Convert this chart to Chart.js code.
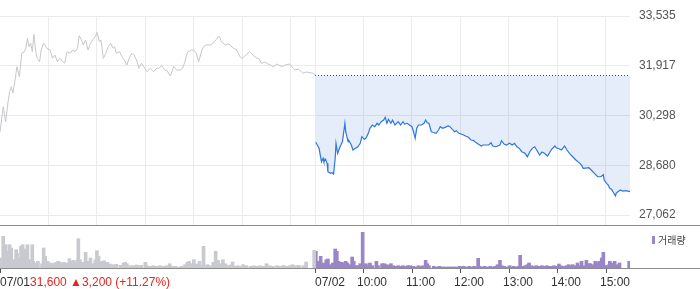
<!DOCTYPE html>
<html lang="ko">
<head>
<meta charset="UTF-8">
<title>주가 차트</title>
<script src="https://cdn.jsdelivr.net/npm/chart.js"></script>
<style>
  body { margin: 0; background: #fff; }
  .wrap { position: relative; width: 700px; height: 289px; overflow: hidden; }
  #priceChart { position: absolute; left: 0; top: 0; }
  #volChart { position: absolute; left: 0; top: 225px; }
  .legend {
    position: absolute; left: 652px; top: 232px;
    font: 10px "Noto Sans CJK KR", sans-serif; color: #444;
    display: flex; align-items: center;
  }
  .legend i { display: inline-block; width: 3px; height: 8px; background: #9a85c8; margin-right: 3px; }
</style>
</head>
<body>
<div class="wrap">
  <canvas id="priceChart" width="700" height="226"></canvas>
  <canvas id="volChart" width="700" height="64"></canvas>
  <div class="legend"><i></i>거래량</div>
</div>
<script>
// 전일 종가 (기준선)
const prevClose = 31600;
const dayLabels = ['07/01', '07/02'];
const changeText = '31,600 ▲3,200 (+11.27%)';
const hourLabels = ['10:00', '11:00', '12:00', '13:00', '14:00', '15:00'];
const yTickValues = [27062, 28680, 30298, 31917, 33535];

// 07/01 (분, 09:00 기준)
const day1Times = [0,4,7,10,12,14,16,19,21,24,27,30,32,34,36,38,40,42,44,46,49,51,54,58,62,65,68,71,74,78,80,83,87,90,93,96,98,101,103,106,109,112,116,118,120,123,125,128,131,134,137,140,142,144,148,151,154,157,160,163,166,169,172,175,178,182,186,190,194,197,200,204,207,211,215,219,223,226,229,231,233,237,240,243,246,248,250,252,255,260,264,268,270,272,274,279,282,285,289,293,297,300,303,309,313,318,320,324,328,332,335,338,343,349,353,357,359,363,365,369,371,375,379,384,388,390];
const day1Prices = [29762,30585,30087,30747,31072,31235,31030,31518,31886,31560,32331,32374,32494,32810,32536,32647,32374,32940,32429,32159,32048,32429,32647,32484,32429,32159,32266,32048,32159,32048,31996,32374,32322,32429,32374,32484,32894,32754,32592,32754,32429,32647,32810,32862,33005,32699,32754,32159,32322,32536,32647,32484,32536,32322,32374,32211,32104,31941,32159,32322,32266,32104,31834,31996,31886,31723,31834,31723,31834,31834,31918,31778,31746,31583,31886,31778,31778,31834,32048,32266,32374,32429,32429,32322,32048,32234,32429,32536,32592,32592,32647,32777,32862,32862,32699,32592,32624,32592,32484,32429,32211,32159,32234,32374,32266,32159,32159,31996,32039,31974,31941,31886,31974,31886,31941,31964,31974,31834,31778,31811,31778,31671,31713,31691,31671,31600];

// 07/02 (분, 09:00 기준)
const day2Times = [1,5,8,10,11,13,15,16,19,21,23,25,26,28,31,33,34,37,38,41,42,45,47,50,53,56,58,61,63,66,68,71,74,77,79,82,85,87,89,91,94,96,99,103,106,109,111,114,117,120,122,124,126,128,132,135,137,139,141,144,146,150,153,155,158,161,165,167,170,173,175,178,181,184,187,190,193,196,198,202,206,208,211,215,218,220,224,229,231,234,237,241,244,247,250,253,256,260,263,266,269,272,275,278,281,284,288,291,293,297,299,301,305,307,309,312,315,319,323,328,330,332,335,339,342,344,346,350,354,357,358,361,363,365,367,369,372,373,375,378,381,385,390];
const day2Prices = [29426,29231,28795,28906,28795,28873,28743,28470,28418,28438,28395,28906,29394,29069,29283,29394,29446,30045,29771,29446,29479,29339,29176,29231,29283,29394,29609,29524,29557,29719,29882,29989,29934,30045,29989,30097,30152,30240,30045,30175,30045,30152,29989,30097,29989,30097,30022,30045,29989,29934,29771,29557,29882,29989,29989,30045,30152,30064,30045,29771,29752,29719,29827,29934,29882,29914,29957,29934,29849,29771,29804,29719,29696,29664,29622,29589,29501,29492,29446,29371,29306,29339,29339,29339,29413,29306,29283,29339,29479,29371,29339,29394,29339,29394,29283,29231,29121,29069,28958,29121,29231,29283,29153,29013,29111,29069,28981,29121,29199,29306,29241,29231,29176,29241,29306,29176,29069,28958,28851,28743,28688,28581,28590,28600,28525,28470,28418,28307,28307,28373,28200,28093,28037,27930,27898,27819,27680,27777,27819,27875,27842,27852,27819];

// 거래량
const day1VolTimes = [0,4,7,8,12,14,17,20,21,24,26,28,30,31,33,34,36,40,41,45,47,52,54,56,59,62,65,67,70,72,74,76,79,82,86,88,91,93,96,97,99,101,103,106,108,112,115,118,120,122,124,126,129,131,133,136,140,144,149,153,155,157,161,165,169,173,175,180,182,186,190,194,198,202,206,210,213,217,221,225,229,232,234,237,240,243,247,250,252,254,257,260,264,267,270,273,276,279,281,285,288,291,294,297,301,305,310,314,318,322,326,330,334,338,343,347,351,355,359,362,365,369,371,376,379,389];
const day1Vols = [10000,31700,23300,16700,23300,20000,8300,18300,15000,10000,21700,23300,18300,19000,11700,23300,8300,23300,6700,5000,6700,4300,20000,11700,6700,5000,3300,5000,5700,6700,6000,4300,5700,5000,9300,6700,7700,5700,8300,29300,8300,4300,5700,15700,6700,10000,4300,8300,17300,11700,5700,6700,7300,4300,5700,4000,3300,3700,2700,5000,5700,4300,2300,2300,3000,2300,2700,5700,2300,1700,2300,1700,2300,1700,2300,4300,1700,1700,1000,1700,3300,5700,6700,4300,8300,4000,6700,2300,21700,2300,3300,2300,5700,16700,7700,4300,8300,4300,2300,3000,6000,1700,2300,1700,3300,2300,1700,2300,1700,2300,1700,4300,2300,1700,2300,1700,2700,1700,2300,3300,2300,2700,2300,2300,6000,17700];
const day2VolTimes = [1,3,5,7,10,12,14,16,19,22,25,27,29,33,35,38,40,43,46,48,51,54,56,59,61,63,66,68,71,76,78,83,86,89,92,94,97,100,103,106,109,113,115,118,122,125,128,131,134,137,139,141,147,151,154,157,160,163,166,169,172,175,179,182,184,188,191,194,197,199,202,204,208,210,213,217,220,223,226,229,231,234,237,241,243,246,249,252,254,257,260,263,265,268,271,274,278,281,283,287,290,293,296,299,302,304,307,311,314,317,319,322,325,327,330,333,336,339,341,344,347,349,352,355,357,359,361,364,365,367,369,371,373,377,389];
const day2Vols = [16700,6700,6700,11700,5000,3300,8300,9000,3300,5000,19000,16700,6700,5700,5000,6700,5000,3300,11000,6700,2300,2300,4300,35700,2300,4300,2300,5000,2300,6700,2300,4300,4300,3300,2300,4300,2300,1700,2300,1700,2300,1700,2300,2300,1700,1000,2300,1700,2300,7700,4300,2300,1700,1000,1700,1000,1000,1000,1000,1000,1000,1000,1700,1000,1700,1000,1700,1000,1700,1000,9700,1700,1000,1700,1000,1700,1000,1700,3300,7700,2300,1700,1000,2300,1000,1700,1000,1700,12700,1700,2300,3300,5000,2300,1700,2300,1700,2300,1700,2300,1700,1700,2300,1700,4000,2300,1700,2300,3300,2300,3300,2300,5000,2300,6700,2300,7700,4300,4300,3300,6700,5000,6700,10000,15700,2300,2300,3300,6700,5000,4300,6700,3300,5000,6700];

const SESSION = 390; // 09:00 ~ 15:30
const gridMinutes = [0, 60, 120, 180, 240, 300, 360, 390, 450, 510, 570, 630, 690, 750];
const FONT = '"Liberation Sans", Arial, sans-serif';

const toPts = (times, vals, offset) => times.map((t, i) => ({ x: t + offset, y: vals[i] }));

// y축 라벨 여백이 plot 영역을 줄이지 않도록
const fixY = s => { s.width = 70; s.paddingTop = 0; s.paddingBottom = 0; };

new Chart(document.getElementById('priceChart'), {
  type: 'line',
  data: {
    datasets: [
      {
        data: toPts(day1Times, day1Prices, 0),
        borderColor: '#c6c7cc', borderWidth: 1, pointRadius: 0, fill: false
      },
      {
        data: toPts(day2Times, day2Prices, SESSION),
        borderColor: '#2f77dc', borderWidth: 1.2, pointRadius: 0,
        fill: { value: prevClose }, backgroundColor: 'rgba(70,125,220,0.14)'
      },
      {
        data: [{ x: SESSION, y: prevClose }, { x: SESSION * 2, y: prevClose }],
        borderColor: '#444', borderWidth: 1, borderDash: [1, 2], pointRadius: 0, fill: false
      }
    ]
  },
  options: {
    responsive: false, animation: false,
    layout: { padding: { top: 16, bottom: 1, left: 0, right: 0 } },
    plugins: { legend: { display: false }, tooltip: { enabled: false } },
    scales: {
      x: {
        type: 'linear', min: 0, max: SESSION * 2,
        afterBuildTicks: s => { s.ticks = gridMinutes.map(v => ({ value: v })); },
        ticks: { display: false },
        grid: { color: c => (c.tick && c.tick.value === 0) ? 'rgba(0,0,0,0)' : '#ebebeb', drawTicks: false },
        border: { display: false },
        afterFit: s => { s.height = 0; }
      },
      y: {
        position: 'right', min: 26737, max: 33535,
        afterBuildTicks: s => { s.ticks = yTickValues.map(v => ({ value: v })); },
        ticks: {
          callback: v => v.toLocaleString('en-US'),
          color: '#555', font: { size: 12, family: FONT }, padding: 9, crossAlign: 'near'
        },
        grid: { color: '#ebebeb', drawTicks: false },
        border: { display: false },
        afterFit: fixY
      }
    }
  }
});

// 거래량 패널의 축선, 눈금, 라벨
const volAxisPlugin = {
  id: 'volAxis',
  afterDraw(chart) {
    const ctx = chart.ctx;
    const xs = chart.scales.x;
    const bottom = chart.chartArea.bottom;
    ctx.save();
    ctx.strokeStyle = '#8c8c8c';
    ctx.lineWidth = 1;
    ctx.beginPath();
    ctx.moveTo(0, 0.5); ctx.lineTo(chart.width, 0.5);
    ctx.moveTo(0, bottom + 0.5); ctx.lineTo(chart.width, bottom + 0.5);
    ctx.stroke();

    const markMinutes = [0, SESSION, 450, 510, 570, 630, 690, 750];
    ctx.strokeStyle = '#555';
    ctx.beginPath();
    markMinutes.forEach(m => {
      const px = Math.round(xs.getPixelForValue(m)) + 0.5;
      ctx.moveTo(px, bottom + 1); ctx.lineTo(px, bottom + 5);
    });
    ctx.stroke();

    const baseY = 61;
    ctx.font = '12px ' + FONT;
    ctx.textBaseline = 'alphabetic';
    ctx.textAlign = 'left';
    ctx.fillStyle = '#333';
    ctx.fillText(dayLabels[0], 0, baseY);
    const w = ctx.measureText(dayLabels[0]).width;
    ctx.fillStyle = '#e8251f';
    ctx.fillText(changeText, w, baseY);
    ctx.fillStyle = '#333';
    ctx.fillText(dayLabels[1], Math.round(xs.getPixelForValue(SESSION)), baseY);
    hourLabels.forEach((lab, i) => {
      const px = xs.getPixelForValue(SESSION + 60 * (i + 1));
      ctx.fillText(lab, Math.round(px) - 6, baseY);
    });
    ctx.restore();
  }
};

new Chart(document.getElementById('volChart'), {
  type: 'bar',
  data: {
    datasets: [
      { data: toPts(day1VolTimes, day1Vols, 0), backgroundColor: '#c9cacf', barThickness: 3, grouped: false },
      { data: toPts(day2VolTimes, day2Vols, SESSION), backgroundColor: '#9a85c8', barThickness: 3, grouped: false }
    ]
  },
  options: {
    responsive: false, animation: false,
    layout: { padding: { top: 2, bottom: 0, left: 0, right: 0 } },
    plugins: { legend: { display: false }, tooltip: { enabled: false } },
    scales: {
      x: {
        type: 'linear', min: 0, max: SESSION * 2, offset: false,
        ticks: { display: false },
        grid: { display: false, drawTicks: false },
        border: { display: false },
        afterFit: s => { s.height = 21; }
      },
      y: {
        position: 'right', min: 0, max: 41000,
        ticks: { display: false },
        grid: { display: false, drawTicks: false },
        border: { display: false },
        afterFit: fixY
      }
    }
  },
  plugins: [volAxisPlugin]
});
</script>
</body>
</html>
